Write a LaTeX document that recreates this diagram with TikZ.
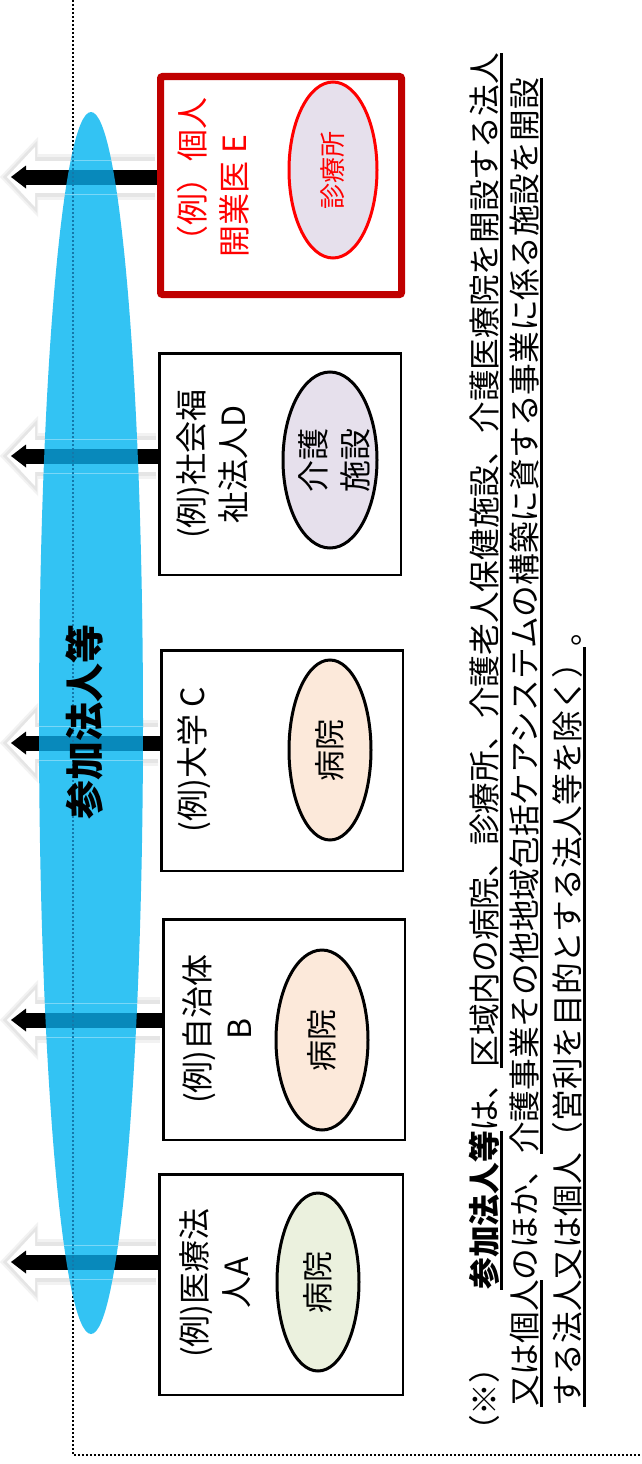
\documentclass[tikz,border=0pt]{standalone}
\usepackage{fontspec}
\setmainfont{Noto Sans CJK JP}
\usetikzlibrary{shapes.geometric,arrows.meta,calc}
\definecolor{skyb}{RGB}{51,195,243}
\definecolor{ovl}{RGB}{8,137,187}
\definecolor{dotb}{RGB}{20,120,170}
\definecolor{boxred}{RGB}{192,0,0}
\definecolor{tred}{RGB}{255,0,0}
\definecolor{lav}{RGB}{230,224,236}
\definecolor{peach}{RGB}{252,233,218}
\definecolor{pgreen}{RGB}{235,241,222}
\newsavebox\ulbx
\newcommand\ulx[1]{\sbox\ulbx{#1}\rlap{\rule[-0.23em]{\wd\ulbx}{0.09em}}\usebox\ulbx}
\begin{document}
\begin{tikzpicture}[x=1pt,y=-1pt,
  box/.style={draw=black, line width=2.5pt, fill=white, inner sep=0pt},
  ebox/.style={draw=boxred, line width=7pt, rounded corners=2pt, fill=white, inner sep=0pt},
  oval/.style={ellipse, draw=black, line width=3pt, inner sep=0pt},
  rtxt/.style={rotate=90, inner sep=0pt, font=\fontsize{32}{42}\selectfont},
  notetxt/.style={rotate=90, inner sep=0pt, font=\fontsize{31.7}{40}\selectfont},
  blackarrow/.style={draw=black, line width=15pt, -{Triangle[width=23pt,length=15pt,line width=0pt]}},
  glowouter/.style={draw=black!5, line width=46pt, -{Triangle[width=80pt,length=38pt,line width=0pt]}},
  glowedge/.style={draw=black!10, line width=40pt, -{Triangle[width=72pt,length=34pt,line width=0pt]}},
  glowfill/.style={draw=white, line width=32pt, -{Triangle[width=60pt,length=28pt,line width=0pt]}},
  dotline/.style={line width=2pt, dash pattern=on 2pt off 2pt},
  glowline/.style={draw=white, opacity=0.35, line width=1pt}
]
\useasboundingbox (0,0) rectangle (641,1464);
\fill[white] (0,0) rectangle (641,1464);

% frame coordinates
\coordinate (fTop) at (73,0);
\coordinate (fCorner) at (73,1455);
\coordinate (fRight) at (641,1455);

% boxes
\node[ebox, minimum width=241, minimum height=218] (boxE) at (281,185.5) {};
\node[box, minimum width=241.5, minimum height=221.5] (boxD) at (280,464) {};
\node[box, minimum width=241.5, minimum height=220.5] (boxC) at (282,760.5) {};
\node[box, minimum width=241.5, minimum height=220.5] (boxB) at (284,1029.5) {};
\node[box, minimum width=243.5, minimum height=220.5] (boxA) at (281,1284.5) {};

% box texts
\node[rtxt, text=tred, align=left] (txE) at (213,177) {（例）個人\\開業医 E};
\node[rtxt, align=center] (txD) at (212,464) {(例)社会福\\祉法人D};
\node[rtxt, align=center] (txC) at (194.5,760) {(例)大学 C};
\node[rtxt, align=center] (txB) at (217,1029) {(例)自治体\\B};
\node[rtxt, align=center] (txA) at (215,1283) {(例)医療法\\人A};

% ovals
\node[oval, draw=tred, fill=lav, minimum width=88, minimum height=176] (ovE) at (333,170) {};
\node[rtxt, text=tred, font=\fontsize{26}{30}\selectfont] (ovtE) at (ovE) {診療所};
\node[oval, fill=lav, minimum width=94, minimum height=176] (ovD) at (330,460) {};
\node[rtxt, align=center] (ovtD) at (334,460) {介護\\施設};
\node[oval, fill=peach, minimum width=82, minimum height=180] (ovC) at (330,750) {};
\node[rtxt, font=\fontsize{31}{40}\selectfont] (ovtC) at (ovC) {病院};
\node[oval, fill=peach, minimum width=92, minimum height=180] (ovB) at (322,1040) {};
\node[rtxt, font=\fontsize{31}{40}\selectfont] (ovtB) at (ovB) {病院};
\node[oval, fill=pgreen, minimum width=82, minimum height=178] (ovA) at (318,1282) {};
\node[rtxt, font=\fontsize{31}{40}\selectfont] (ovtA) at (ovA) {病院};

% arrow tip coordinates
\foreach \n/\yy in {E/177,D/456,C/743,B/1020,A/1262}{
  \coordinate (a\n) at (11,\yy);
  \coordinate (g\n) at (0,\yy);
  \coordinate (h\n) at (3,\yy);
}

% glow arrows
\foreach \n in {E,D,C,B,A}{
  \draw[glowouter] ($(box\n.west |- g\n)+(-2,0)$) -- (g\n);
  \draw[glowedge] ($(box\n.west |- g\n)+(-2,0)$) -- (h\n);
  \draw[glowfill] (box\n.west |- h\n) -- ($(h\n)+(4,0)$);
}

% dotted frame
\draw[dotline] (fTop) -- (fCorner) -- (fRight);

% blue ellipse
\node[ellipse, fill=skyb, minimum width=104, minimum height=1222, inner sep=0pt] (cloud) at (91,723) {};

% black arrows
\foreach \n in {E,D,C,B,A}{
  \draw[blackarrow] (box\n.west |- a\n) -- (a\n);
}

% overlay inside the blue ellipse
\begin{scope}
  \clip (cloud.center) ellipse [x radius=52, y radius=611];
  \foreach \n in {E,D,C,B,A}{
    \draw[blackarrow, draw=ovl] (box\n.west |- a\n) -- (a\n);
    \draw[glowline] ($(g\n)+(0,-17)$) -- ($(box\n.west |- g\n)+(0,-17)$);
    \draw[glowline] ($(g\n)+(0,17)$) -- ($(box\n.west |- g\n)+(0,17)$);
  }
  \draw[dotline, draw=dotb] (fTop) -- (fCorner);
\end{scope}

% label
\node[rotate=90, inner sep=0pt, font=\fontsize{39}{39}\selectfont\bfseries] (lbl) at (85,722) {参加法人等};

% note
\node[notetxt, anchor=base west] (n1a) at (496,1447) {（※）};
\node[notetxt, anchor=base east] (n1b) at (496,53) {\ulx{\bfseries 参加法人等}は、\ulx{区域内の病院、診療所、介護老人保健施設、介護医療院を開設する法人}};
\node[notetxt, anchor=base west] (n2) at (536,1407) {\ulx{又は個人}のほか、\ulx{介護事業その他地域包括ケアシステムの構築に資する事業に係る施設を開設}};
\node[notetxt, anchor=base west] (n3) at (579,1407) {\ulx{する法人又は個人（営利を目的とする法人等を除く）}。};
\end{tikzpicture}
\end{document}
